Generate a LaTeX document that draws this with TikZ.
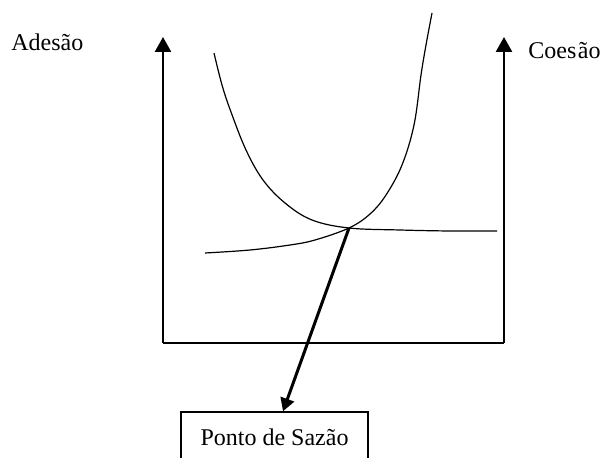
\documentclass[tikz,border=0pt]{standalone}
\usepackage{fontspec}
\setmainfont{Liberation Serif}
\usetikzlibrary{positioning, arrows.meta}

\begin{document}
\begin{tikzpicture}[
    x=0.5pt, y=-0.5pt,
    axis/.style={-{Triangle[length=7.5pt, width=8pt]}, line width=1.3pt},
    base/.style={line width=0.7pt},
    curve/.style={line width=0.6pt},
    arr/.style={-{Triangle[length=6.5pt, width=7pt]}, line width=1.5pt},
    lbl/.style={font=\fontsize{12}{14}\selectfont, inner sep=0pt},
    box/.style={rectangle, draw, line width=0.7pt, minimum width=93.5pt, minimum height=25pt, font=\fontsize{12}{14}\selectfont},
  ]
    \useasboundingbox (0,0) rectangle (609,458);
    \clip (0,0) rectangle (609,458);

    % axes
    \coordinate (ll) at (163,343);
    \coordinate (lr) at (504,343);
    \coordinate (lt) at (163,37);
    \coordinate (rt) at (504,37);
    \draw[base] (ll) -- (lr);
    \draw[axis] (ll) -- (lt);
    \draw[axis] (lr) -- (rt);

    \node[lbl, anchor=base west] (ades) at (11,51) {Adesão};
    \node[lbl, anchor=base west] (coes) at (528,59) {Coes\kern0.8pt ão};

    % curves
    \coordinate (sat) at (349,228);
    \draw[curve] plot[smooth, tension=0.6] coordinates {(214,53) (222,85) (231,112) (246,150) (263,180) (285,203) (312,220) (349,228) (400,230) (450,231) (497,231)};
    \draw[curve] plot[smooth, tension=0.6] coordinates {(205,253) (250,250) (290,245) (315,240) (349,228) (370,214) (386,195) (402,165) (414,125) (421,75) (426,45) (432,13)};

    % saturation point
    \node[box] (sazao) at (274.5,437) {Ponto de Sazão};
    \draw[arr] (sat) -- (sazao.north -| 283,0);
\end{tikzpicture}
\end{document}
